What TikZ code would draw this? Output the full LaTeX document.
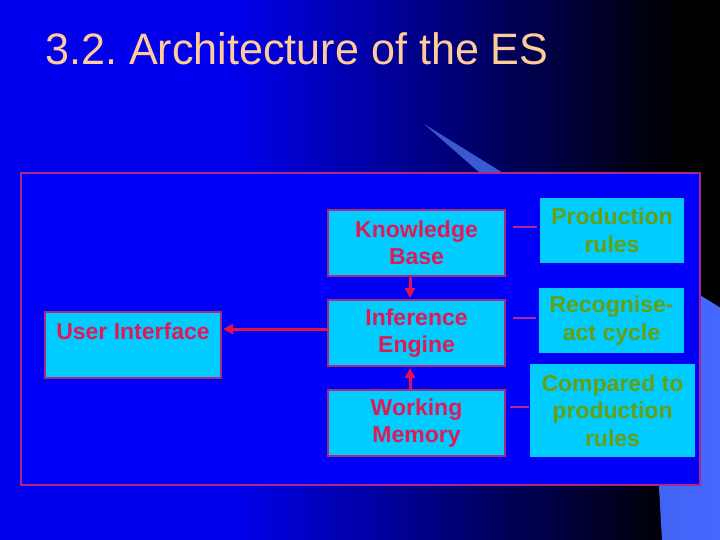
\documentclass[tikz,border=0pt]{standalone}
\usepackage{fontspec}
\usepackage{graphicx}
\setmainfont{Liberation Sans}
\usetikzlibrary{arrows.meta,calc}
\definecolor{bgblue}{RGB}{0,0,238}
\definecolor{framefill}{RGB}{0,0,248}
\definecolor{frameedge}{RGB}{170,40,140}
\definecolor{cometdim}{RGB}{58,86,200}
\definecolor{comet}{RGB}{68,104,255}
\definecolor{cyanfill}{RGB}{0,204,255}
\definecolor{boxedge}{RGB}{165,45,125}
\definecolor{redtext}{RGB}{225,25,85}
\definecolor{arrowred}{RGB}{232,16,76}
\definecolor{greentext}{RGB}{104,158,18}
\definecolor{linkcol}{RGB}{175,40,150}
\definecolor{titlecol}{RGB}{255,204,153}
\pgfdeclarehorizontalshading{bgshade}{100bp}{color(0bp)=(bgblue); color(25bp)=(bgblue); color(41bp)=(bgblue); color(72bp)=(black); color(100bp)=(black)}
\tikzset{
  boxfont/.style={font=\bfseries\fontsize{23}{27.5}\selectfont},
  box/.style={boxfont, draw=boxedge, line width=2pt, fill=cyanfill, text=redtext, align=center, inner sep=0pt, minimum width=177pt, minimum height=66pt},
  note/.style={boxfont, fill=cyanfill, text=greentext, align=center, inner sep=0pt},
  arr/.style={draw=arrowred, line width=3pt, shorten >=1pt, -{Triangle[length=10pt,width=10pt]}},
  link/.style={draw=linkcol, line width=2pt},
  frame/.style={draw=frameedge, line width=2.5pt, fill=framefill}
}
\begin{document}
\begin{tikzpicture}[x=1pt,y=-1pt]
\useasboundingbox (0,0) rectangle (720,540);
\shade[shading=bgshade] (0,0) rectangle (720,540);
% decorative comet shape behind the frame
\shade[left color=cometdim, right color=comet] (424,124) -- (720,307.5) -- (720,540) -- (662,540) -- (659,487) -- (625,300) -- cycle;
% title
\node[anchor=base west, inner sep=0pt, text=titlecol, font=\fontsize{44}{50}\selectfont] (title) at (45,65) {\frenchspacing\scalebox{0.98}[1]{3.2. Architecture of the ES}};
% frame
\draw[frame] (21,173) rectangle (700,485);
% left column boxes
\node[box] (kb) at (416.5,243) {Knowledge\\Base};
\node[box] (ie) at (416.5,333) {Inference\\Engine};
\node[box] (wm) at (416.5,423) {Working\\Memory};
\node[box, minimum width=176pt] (ui) at (133,345) {User Interface\\\mbox{}};
% notes
\node[note, minimum width=144pt, minimum height=65pt] (pr) at (612,230.5) {Production\\rules};
\node[note, minimum width=145pt, minimum height=65pt] (ra) at (611.5,320.5) {Recognise-\\act cycle};
\node[note, minimum width=165pt, minimum height=93pt] (cp) at (612.5,410.5) {Compared to\\production\\rules};
% arrows
\draw[arr] ([xshift=-6.5pt]kb.south) -- ([xshift=-6.5pt]ie.north);
\draw[arr] ([xshift=-6.5pt]wm.north) -- ([xshift=-6.5pt]ie.south);
\draw[arr] ([yshift=4pt]ie.west) -- ([yshift=4pt]ie.west -| ui.east);
% links
\draw[link, shorten <=7pt, shorten >=3pt] ($(kb.east |- pr.west)+(0,-3)$) -- ($(pr.west)+(0,-3)$);
\draw[link, shorten <=7pt, shorten >=3pt] ($(ie.east |- ra.west)+(0,-3)$) -- ($(ra.west)+(0,-3)$);
\draw[link, shorten <=4pt, shorten >=1pt] ($(wm.east |- cp.west)+(0,-4)$) -- ($(cp.west)+(0,-4)$);
\end{tikzpicture}
\end{document}
